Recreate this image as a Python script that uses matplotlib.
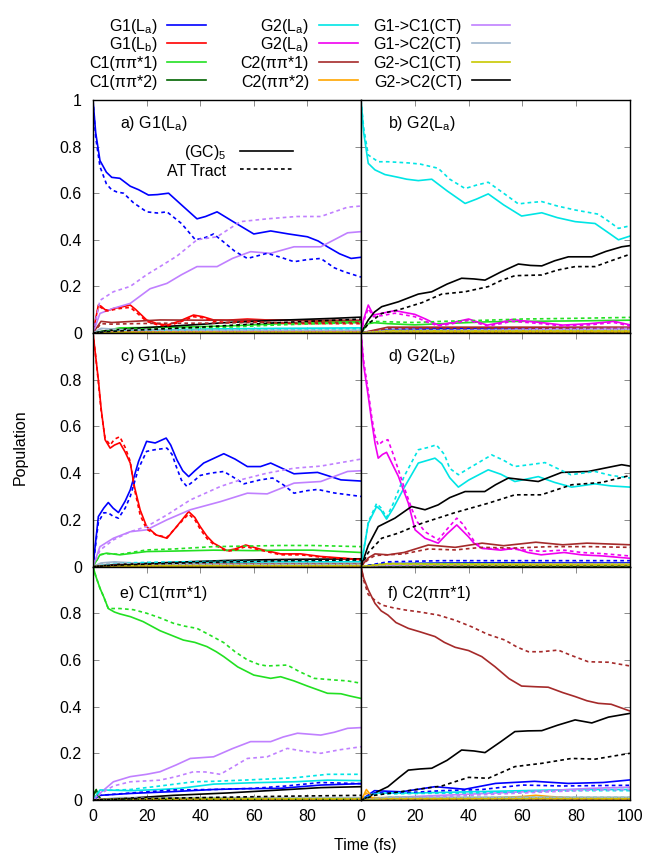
import matplotlib
matplotlib.use("Agg")
import matplotlib.pyplot as plt
from matplotlib.lines import Line2D

plt.rcParams['font.family'] = ['Liberation Sans', 'DejaVu Sans']
plt.rcParams['mathtext.default'] = 'regular'

# ---------------------------------------------------------------- series
keys = ['G1La', 'G1Lb', 'C1pp1', 'C1pp2', 'G2La', 'G2Lb',
        'C2pp1', 'C2pp2', 'G1C1', 'G1C2', 'G2C1', 'G2C2']
labels = ['G1(L$_a$)', 'G1(L$_b$)', 'C1(ππ*1)', 'C1(ππ*2)',
          'G2(L$_a$)', 'G2(L$_a$)', 'C2(ππ*1)', 'C2(ππ*2)',
          'G1->C1(CT)', 'G1->C2(CT)', 'G2->C1(CT)', 'G2->C2(CT)']
colors = ['#0000ff', '#ff0000', '#22e022', '#006400', '#00e5e5', '#f000f0',
          '#a52a2a', '#ffa500', '#c080ff', '#a0b6cd', '#c8c800', '#000000']

panel_titles = ['a) G1(L$_a$)', 'b) G2(L$_a$)', 'c) G1(L$_b$)',
                'd) G2(L$_b$)', 'e) C1(ππ*1)', 'f) C2(ππ*1)']
style_labels = ['(GC)$_5$', 'AT Tract']
x_ticks = [0, 20, 40, 60, 80, 100]
y_ticks = [0, 0.2, 0.4, 0.6, 0.8, 1.0]

T6 = [0, 10, 30, 50, 70, 100]

# ---- panel a : excitation of G1(La)
a_gc = {
    'G1La': ([0, 1, 2.6, 5, 7, 10, 13.9, 17, 20.7, 24, 28.2, 33, 38.8, 42, 46.3, 52, 60, 66.3, 73, 80, 84, 87.5, 92, 96.3, 100],
             [1.0, 0.86, 0.74, 0.69, 0.668, 0.664, 0.63, 0.615, 0.592, 0.594, 0.60, 0.55, 0.49, 0.50, 0.52, 0.48, 0.425, 0.438, 0.425, 0.413, 0.395, 0.37, 0.34, 0.32, 0.325]),
    'G1Lb': ([0, 1, 2, 3, 4.5, 6, 7.6, 10, 13.9, 16, 20, 24, 27.6, 32, 37.5, 41, 45, 50, 57.6, 65, 75, 85, 100],
             [0, 0.06, 0.12, 0.115, 0.10, 0.098, 0.105, 0.11, 0.12, 0.10, 0.056, 0.04, 0.034, 0.05, 0.077, 0.07, 0.056, 0.055, 0.06, 0.056, 0.055, 0.05, 0.05]),
    'C1pp1': (T6, [0, 0.022, 0.025, 0.03, 0.04, 0.05]),
    'C1pp2': (T6, [0, 0.006, 0.005, 0.005, 0.005, 0.005]),
    'G2La': (T6, [0, 0.012, 0.015, 0.018, 0.02, 0.022]),
    'G2Lb': (T6, [0, 0.006, 0.006, 0.007, 0.008, 0.008]),
    'C2pp1': ([0, 3, 7, 15, 25, 40, 60, 80, 100], [0, 0.05, 0.045, 0.05, 0.056, 0.055, 0.055, 0.055, 0.055]),
    'C2pp2': (T6, [0, 0.003, 0.003, 0.003, 0.003, 0.003]),
    'G1C1': ([0, 2.6, 7.6, 13.9, 21.3, 27.6, 33, 38.8, 46.3, 52, 58.8, 66.3, 75, 85, 95, 100],
             [0, 0.084, 0.106, 0.127, 0.19, 0.213, 0.25, 0.285, 0.285, 0.32, 0.349, 0.342, 0.37, 0.37, 0.43, 0.435]),
    'G1C2': ([0, 3, 10, 30, 50, 70, 100], [0, 0.02, 0.015, 0.012, 0.012, 0.012, 0.012]),
    'G2C1': (T6, [0, 0.004, 0.004, 0.004, 0.004, 0.004]),
    'G2C2': ([0, 5, 15, 30, 40, 50, 70, 90, 100], [0, 0.01, 0.02, 0.03, 0.037, 0.045, 0.055, 0.063, 0.068]),
}
a_at = {
    'G1La': ([0, 1, 2.6, 5, 7, 9, 11.4, 15, 20, 24, 27.6, 33, 38.2, 42, 45, 48.8, 53, 57.6, 65, 70, 75, 80, 85, 90, 93.7, 100],
             [1.0, 0.84, 0.714, 0.64, 0.614, 0.605, 0.60, 0.56, 0.52, 0.515, 0.52, 0.47, 0.40, 0.41, 0.425, 0.39, 0.35, 0.32, 0.342, 0.325, 0.306, 0.315, 0.32, 0.28, 0.263, 0.24]),
    'G1Lb': ([0, 1, 2, 3, 4.5, 6, 7.6, 10, 13.9, 16, 20, 24, 27.6, 32, 37.5, 41, 45, 50, 57.6, 65, 75, 85, 100],
             [0, 0.06, 0.11, 0.11, 0.095, 0.095, 0.10, 0.105, 0.11, 0.09, 0.05, 0.035, 0.03, 0.045, 0.07, 0.065, 0.05, 0.045, 0.05, 0.045, 0.04, 0.04, 0.04]),
    'C1pp1': (T6, [0, 0.016, 0.02, 0.025, 0.035, 0.045]),
    'C1pp2': (T6, [0, 0.005, 0.004, 0.004, 0.004, 0.004]),
    'G2La': (T6, [0, 0.01, 0.012, 0.015, 0.017, 0.018]),
    'G2Lb': (T6, [0, 0.005, 0.005, 0.006, 0.006, 0.006]),
    'C2pp1': ([0, 3, 7, 15, 25, 40, 60, 80, 100], [0, 0.04, 0.038, 0.04, 0.042, 0.042, 0.045, 0.045, 0.045]),
    'C2pp2': (T6, [0, 0.002, 0.002, 0.002, 0.002, 0.002]),
    'G1C1': ([0, 2.6, 7.6, 13.9, 20, 25, 31.3, 38.8, 46.3, 55, 65, 76, 85, 95, 100],
             [0, 0.14, 0.177, 0.20, 0.25, 0.285, 0.33, 0.40, 0.413, 0.478, 0.49, 0.50, 0.50, 0.54, 0.545]),
    'G1C2': ([0, 3, 10, 30, 50, 70, 100], [0, 0.018, 0.014, 0.012, 0.012, 0.012, 0.012]),
    'G2C1': (T6, [0, 0.003, 0.003, 0.003, 0.003, 0.003]),
    'G2C2': ([0, 5, 15, 30, 40, 50, 70, 90, 100], [0, 0.006, 0.012, 0.02, 0.025, 0.032, 0.045, 0.055, 0.06]),
}

# ---- panel b : excitation of G2(La)
b_gc = {
    'G1La': (T6, [0, 0.015, 0.018, 0.02, 0.02, 0.02]),
    'G1Lb': (T6, [0, 0.008, 0.008, 0.008, 0.008, 0.008]),
    'C1pp1': ([0, 2.7, 5, 10, 20, 30, 47, 60, 80, 100], [0, 0.04, 0.044, 0.04, 0.035, 0.04, 0.048, 0.05, 0.052, 0.055]),
    'C1pp2': (T6, [0, 0.004, 0.004, 0.004, 0.004, 0.004]),
    'G2La': ([0, 1, 2.7, 5.2, 8.9, 13.9, 17, 21.3, 26.3, 32, 38.7, 43, 47.3, 53, 59.7, 67.2, 73, 79.6, 87, 92, 95.7, 100],
             [1.0, 0.86, 0.728, 0.70, 0.68, 0.668, 0.66, 0.654, 0.66, 0.61, 0.556, 0.575, 0.597, 0.55, 0.502, 0.516, 0.495, 0.478, 0.47, 0.43, 0.40, 0.416]),
    'G2Lb': ([0, 1, 2.7, 4.6, 8, 12.6, 20, 24, 28.7, 34, 40, 44, 47, 52, 56, 62, 67, 75, 85, 94, 100],
             [0, 0.06, 0.12, 0.077, 0.085, 0.096, 0.08, 0.06, 0.034, 0.045, 0.06, 0.045, 0.034, 0.045, 0.058, 0.05, 0.045, 0.034, 0.04, 0.05, 0.035]),
    'C2pp1': (T6, [0, 0.025, 0.025, 0.025, 0.025, 0.025]),
    'C2pp2': (T6, [0, 0.006, 0.005, 0.005, 0.005, 0.005]),
    'G1C1': (T6, [0, 0.01, 0.012, 0.015, 0.018, 0.02]),
    'G1C2': (T6, [0, 0.012, 0.012, 0.012, 0.012, 0.012]),
    'G2C1': (T6, [0, 0.01, 0.01, 0.01, 0.01, 0.01]),
    'G2C2': ([0, 2.7, 5, 7.7, 13.9, 21.3, 26.3, 32, 37.4, 42, 46.1, 52, 58.5, 63, 67.2, 72, 77.1, 85.8, 91, 96.9, 100],
             [0, 0.056, 0.09, 0.113, 0.134, 0.167, 0.177, 0.21, 0.235, 0.232, 0.227, 0.262, 0.296, 0.29, 0.288, 0.31, 0.327, 0.327, 0.35, 0.37, 0.375]),
}
b_at = {
    'G1La': (T6, [0, 0.012, 0.014, 0.015, 0.015, 0.015]),
    'G1Lb': (T6, [0, 0.006, 0.006, 0.006, 0.006, 0.006]),
    'C1pp1': ([0, 2.7, 5, 10, 20, 30, 47, 60, 80, 100], [0, 0.045, 0.05, 0.048, 0.045, 0.05, 0.055, 0.06, 0.063, 0.067]),
    'C1pp2': (T6, [0, 0.003, 0.003, 0.003, 0.003, 0.003]),
    'G2La': ([0, 1, 2.7, 6.4, 10, 17.6, 22, 28.7, 33, 38.7, 43, 47.3, 53, 58.5, 63, 67.2, 73, 79.6, 88.2, 92, 95.7, 100],
             [1.0, 0.88, 0.764, 0.735, 0.735, 0.73, 0.725, 0.707, 0.66, 0.62, 0.635, 0.647, 0.60, 0.554, 0.56, 0.564, 0.545, 0.528, 0.51, 0.48, 0.449, 0.46]),
    'G2Lb': ([0, 1, 2.7, 4.6, 8, 12.6, 20, 24, 28.7, 34, 40, 44, 47, 52, 56, 62, 67, 75, 85, 94, 100],
             [0, 0.05, 0.105, 0.07, 0.075, 0.085, 0.07, 0.05, 0.03, 0.04, 0.055, 0.04, 0.03, 0.04, 0.05, 0.045, 0.04, 0.03, 0.035, 0.045, 0.03]),
    'C2pp1': (T6, [0, 0.02, 0.02, 0.02, 0.02, 0.02]),
    'C2pp2': (T6, [0, 0.005, 0.004, 0.004, 0.004, 0.004]),
    'G1C1': (T6, [0, 0.008, 0.01, 0.012, 0.014, 0.016]),
    'G1C2': (T6, [0, 0.01, 0.01, 0.01, 0.01, 0.01]),
    'G2C1': (T6, [0, 0.008, 0.008, 0.008, 0.008, 0.008]),
    'G2C2': ([0, 2.7, 7.7, 13.9, 22.6, 30, 38.7, 47.3, 52, 57.2, 67.2, 73, 79.6, 87, 93, 100],
             [0, 0.04, 0.084, 0.099, 0.13, 0.167, 0.177, 0.199, 0.225, 0.246, 0.249, 0.27, 0.285, 0.285, 0.31, 0.338]),
}

# ---- panel c : excitation of G1(Lb)
c_gc = {
    'G1La': ([0, 2, 4, 5.7, 7.5, 9.5, 12, 13.9, 17, 20, 23.2, 27.3, 29, 31.3, 33.5, 35.7, 38, 41.3, 48.8, 53, 57.6, 62.5, 66.3, 75, 83.8, 92.5, 100],
             [0, 0.214, 0.25, 0.274, 0.25, 0.231, 0.28, 0.328, 0.45, 0.536, 0.529, 0.55, 0.52, 0.457, 0.41, 0.385, 0.41, 0.443, 0.483, 0.46, 0.428, 0.428, 0.443, 0.397, 0.403, 0.371, 0.366]),
    'G1Lb': ([0, 1, 2, 3, 4.5, 6.4, 8, 10, 12, 13.9, 15.5, 17.6, 20, 23.6, 27.6, 31.2, 35.7, 38, 40, 42.5, 45, 50, 53, 57, 62.5, 70, 77.5, 85, 100],
             [1.0, 0.90, 0.80, 0.68, 0.543, 0.507, 0.52, 0.53, 0.49, 0.443, 0.34, 0.242, 0.171, 0.135, 0.121, 0.171, 0.235, 0.21, 0.171, 0.13, 0.10, 0.068, 0.075, 0.092, 0.074, 0.054, 0.054, 0.043, 0.03]),
    'C1pp1': ([0, 2.6, 5, 10, 20, 30, 45, 60, 70, 82, 100], [0, 0.05, 0.057, 0.05, 0.064, 0.066, 0.07, 0.068, 0.07, 0.07, 0.06]),
    'C1pp2': (T6, [0, 0.004, 0.004, 0.004, 0.004, 0.004]),
    'G2La': (T6, [0, 0.012, 0.016, 0.018, 0.02, 0.02]),
    'G2Lb': (T6, [0, 0.005, 0.005, 0.005, 0.005, 0.005]),
    'C2pp1': (T6, [0, 0.01, 0.012, 0.012, 0.012, 0.012]),
    'C2pp2': (T6, [0, 0.003, 0.003, 0.003, 0.003, 0.003]),
    'G1C1': ([0, 2.6, 7.6, 13.9, 20, 27.6, 36.3, 47.6, 57.6, 65, 75, 85, 95, 100],
             [0, 0.085, 0.121, 0.149, 0.157, 0.20, 0.243, 0.278, 0.314, 0.311, 0.357, 0.364, 0.407, 0.41]),
    'G1C2': ([0, 3, 8, 20, 50, 100], [0, 0.015, 0.02, 0.012, 0.01, 0.01]),
    'G2C1': (T6, [0, 0.004, 0.004, 0.004, 0.004, 0.004]),
    'G2C2': ([0, 10, 30, 50, 70, 100], [0, 0.008, 0.018, 0.026, 0.03, 0.033]),
}
c_at = {
    'G1La': ([0, 2, 4, 5.7, 7.5, 9.5, 12, 13.9, 17, 20, 23, 27.6, 29.5, 31, 33, 35, 38, 40, 44, 48.8, 52, 56.3, 62, 67, 71, 75, 80, 83.8, 90, 100],
             [0, 0.19, 0.23, 0.23, 0.215, 0.207, 0.25, 0.30, 0.42, 0.493, 0.50, 0.507, 0.48, 0.43, 0.37, 0.343, 0.37, 0.39, 0.40, 0.407, 0.385, 0.354, 0.37, 0.379, 0.35, 0.314, 0.325, 0.33, 0.315, 0.30]),
    'G1Lb': ([0, 1, 2, 3, 4.5, 6.4, 8, 10, 12, 13.9, 15.5, 17.6, 20, 23.6, 27.6, 31.2, 35.7, 38, 40, 42.5, 45, 50, 53, 57, 62.5, 70, 77.5, 85, 100],
             [1.0, 0.90, 0.79, 0.67, 0.55, 0.52, 0.545, 0.556, 0.51, 0.45, 0.33, 0.22, 0.16, 0.135, 0.125, 0.17, 0.225, 0.20, 0.16, 0.12, 0.095, 0.065, 0.07, 0.085, 0.07, 0.05, 0.05, 0.04, 0.03]),
    'C1pp1': ([0, 2.6, 5, 10, 20, 30, 45, 60, 70, 82, 100], [0, 0.05, 0.055, 0.052, 0.071, 0.075, 0.085, 0.088, 0.09, 0.09, 0.085]),
    'C1pp2': (T6, [0, 0.003, 0.003, 0.003, 0.003, 0.003]),
    'G2La': (T6, [0, 0.015, 0.02, 0.022, 0.025, 0.025]),
    'G2Lb': (T6, [0, 0.004, 0.004, 0.004, 0.004, 0.004]),
    'C2pp1': (T6, [0, 0.008, 0.01, 0.01, 0.01, 0.01]),
    'C2pp2': (T6, [0, 0.002, 0.002, 0.002, 0.002, 0.002]),
    'G1C1': ([0, 2.6, 7.6, 13.9, 20, 27.6, 36.3, 47.6, 55, 65, 75, 85, 100],
             [0, 0.07, 0.114, 0.149, 0.171, 0.221, 0.285, 0.343, 0.371, 0.40, 0.421, 0.43, 0.46]),
    'G1C2': ([0, 3, 8, 20, 50, 100], [0, 0.012, 0.016, 0.01, 0.008, 0.008]),
    'G2C1': (T6, [0, 0.003, 0.003, 0.003, 0.003, 0.003]),
    'G2C2': ([0, 10, 30, 50, 70, 100], [0, 0.006, 0.014, 0.02, 0.025, 0.028]),
}

# ---- panel d : excitation of G2(Lb)
d_gc = {
    'G1La': (T6, [0, 0.012, 0.015, 0.016, 0.016, 0.016]),
    'G1Lb': (T6, [0, 0.005, 0.005, 0.005, 0.005, 0.005]),
    'C1pp1': (T6, [0, 0.012, 0.012, 0.012, 0.012, 0.012]),
    'C1pp2': (T6, [0, 0.003, 0.003, 0.003, 0.003, 0.003]),
    'G2La': ([0, 2.7, 5.8, 7.5, 9.5, 12, 16.3, 21.3, 27.5, 30, 33, 36.2, 40, 47.3, 52, 57.2, 65.9, 72, 78.3, 87, 93, 100],
             [0, 0.185, 0.257, 0.24, 0.203, 0.25, 0.343, 0.443, 0.464, 0.44, 0.38, 0.34, 0.37, 0.414, 0.395, 0.364, 0.385, 0.36, 0.34, 0.354, 0.345, 0.34]),
    'G2Lb': ([0, 1, 2.7, 4, 5.2, 6.4, 8, 9.5, 12, 13.9, 16, 17.6, 20.1, 23.8, 28.7, 32, 35.6, 38, 39.9, 42, 44.9, 52, 57, 62, 67, 75.5, 82, 90, 100],
             [1.0, 0.86, 0.729, 0.62, 0.529, 0.464, 0.48, 0.489, 0.43, 0.386, 0.32, 0.271, 0.157, 0.121, 0.10, 0.14, 0.178, 0.15, 0.128, 0.10, 0.078, 0.07, 0.078, 0.06, 0.05, 0.06, 0.05, 0.045, 0.035]),
    'C2pp1': ([0, 2.7, 5.2, 10, 16, 25, 35, 45, 53, 65, 75, 84, 100],
              [0, 0.037, 0.054, 0.05, 0.06, 0.092, 0.082, 0.10, 0.089, 0.104, 0.093, 0.10, 0.093]),
    'C2pp2': (T6, [0, 0.01, 0.008, 0.008, 0.008, 0.008]),
    'G1C1': (T6, [0, 0.006, 0.008, 0.01, 0.012, 0.012]),
    'G1C2': (T6, [0, 0.01, 0.01, 0.01, 0.01, 0.01]),
    'G2C1': (T6, [0, 0.012, 0.01, 0.01, 0.01, 0.01]),
    'G2C2': ([0, 2.7, 6.4, 12.6, 18.8, 23.8, 28.7, 33, 38.7, 46, 50, 54.8, 60, 65.9, 74.6, 84.5, 90, 96.9, 100],
             [0, 0.09, 0.171, 0.207, 0.257, 0.243, 0.264, 0.295, 0.321, 0.321, 0.35, 0.379, 0.372, 0.364, 0.403, 0.407, 0.42, 0.436, 0.43]),
}
d_at = {
    'G1La': (T6, [0, 0.02, 0.025, 0.025, 0.025, 0.025]),
    'G1Lb': (T6, [0, 0.004, 0.004, 0.004, 0.004, 0.004]),
    'C1pp1': (T6, [0, 0.01, 0.01, 0.01, 0.01, 0.01]),
    'C1pp2': (T6, [0, 0.002, 0.002, 0.002, 0.002, 0.002]),
    'G2La': ([0, 2.7, 5.8, 7.5, 9.5, 12, 16, 21.3, 25, 28, 31, 33, 36.2, 40, 48.6, 53, 57, 62, 68.4, 73, 78, 87, 93, 100],
             [0, 0.19, 0.27, 0.25, 0.21, 0.27, 0.385, 0.50, 0.51, 0.521, 0.48, 0.42, 0.393, 0.42, 0.478, 0.455, 0.428, 0.435, 0.445, 0.42, 0.393, 0.407, 0.39, 0.379]),
    'G2Lb': ([0, 1, 2.7, 4, 5.2, 6.4, 8, 10, 12, 13.9, 16, 19, 21, 23.8, 28.7, 32, 35.6, 38, 40, 42, 45, 57, 67, 75.5, 82, 90, 100],
             [1.0, 0.88, 0.75, 0.64, 0.56, 0.52, 0.535, 0.543, 0.48, 0.414, 0.34, 0.243, 0.19, 0.149, 0.114, 0.16, 0.207, 0.18, 0.143, 0.11, 0.078, 0.074, 0.065, 0.07, 0.06, 0.055, 0.045]),
    'C2pp1': ([0, 2.7, 5.2, 10, 16, 25, 35, 45, 57, 70, 85, 100],
              [0, 0.03, 0.047, 0.05, 0.054, 0.075, 0.071, 0.082, 0.079, 0.085, 0.085, 0.082]),
    'C2pp2': (T6, [0, 0.008, 0.006, 0.006, 0.006, 0.006]),
    'G1C1': (T6, [0, 0.005, 0.006, 0.008, 0.01, 0.01]),
    'G1C2': (T6, [0, 0.008, 0.008, 0.008, 0.008, 0.008]),
    'G2C1': (T6, [0, 0.01, 0.008, 0.008, 0.008, 0.008]),
    'G2C2': ([0, 2.7, 7.7, 13.9, 22.6, 35, 47.3, 57.2, 67, 78.3, 89.5, 100],
             [0, 0.06, 0.121, 0.143, 0.185, 0.231, 0.271, 0.307, 0.307, 0.35, 0.36, 0.39]),
}

# ---- panel e : excitation of C1(pi pi*1)
e_gc = {
    'G1La': ([0, 2.6, 14, 30, 45, 55, 70, 85, 100], [0, 0.02, 0.028, 0.036, 0.045, 0.048, 0.05, 0.064, 0.07]),
    'G1Lb': (T6, [0, 0.006, 0.006, 0.006, 0.006, 0.006]),
    'C1pp1': ([0, 1, 2.6, 4, 5.7, 8, 10, 14, 18.7, 25, 33.7, 38, 42.5, 46, 48.8, 54, 60, 66.3, 70, 75, 80, 87.5, 92.5, 96, 100],
              [1.0, 0.96, 0.907, 0.87, 0.82, 0.805, 0.797, 0.785, 0.764, 0.725, 0.685, 0.675, 0.657, 0.635, 0.614, 0.57, 0.535, 0.521, 0.528, 0.51, 0.488, 0.457, 0.455, 0.445, 0.435]),
    'C1pp2': ([0, 0.5, 1.2, 2, 3, 100], [0, 0.03, 0.045, 0.02, 0.002, 0.002]),
    'G2La': ([0, 2.6, 14, 25, 32.5, 45, 60, 75, 87.5, 100], [0, 0.043, 0.04, 0.045, 0.05, 0.068, 0.074, 0.078, 0.085, 0.083]),
    'G2Lb': (T6, [0, 0.005, 0.005, 0.005, 0.005, 0.005]),
    'C2pp1': (T6, [0, 0.006, 0.006, 0.006, 0.006, 0.006]),
    'C2pp2': (T6, [0, 0.003, 0.003, 0.003, 0.003, 0.003]),
    'G1C1': ([0, 2.6, 7.6, 13.9, 20, 25, 31, 36.3, 45, 52, 58.8, 66.3, 71, 76.3, 85, 90, 95, 100],
             [0, 0.029, 0.078, 0.10, 0.11, 0.121, 0.15, 0.178, 0.185, 0.22, 0.25, 0.25, 0.27, 0.286, 0.278, 0.29, 0.307, 0.31]),
    'G1C2': (T6, [0, 0.01, 0.01, 0.01, 0.01, 0.01]),
    'G2C1': (T6, [0, 0.006, 0.006, 0.006, 0.006, 0.006]),
    'G2C2': ([0, 10, 30, 50, 70, 85, 100], [0, 0.005, 0.02, 0.03, 0.043, 0.053, 0.057]),
}
e_at = {
    'G1La': ([0, 2.6, 14, 30, 45, 60, 72, 85, 100], [0, 0.02, 0.03, 0.043, 0.045, 0.05, 0.06, 0.075, 0.07]),
    'G1Lb': (T6, [0, 0.005, 0.005, 0.005, 0.005, 0.005]),
    'C1pp1': ([0, 1, 2.6, 4, 5.7, 10, 15, 20, 25, 30, 34, 38.8, 43, 48.8, 53, 57.6, 62, 65, 72.5, 77, 82.5, 90, 95, 100],
              [1.0, 0.96, 0.907, 0.87, 0.82, 0.82, 0.815, 0.80, 0.78, 0.757, 0.745, 0.735, 0.71, 0.674, 0.635, 0.60, 0.58, 0.574, 0.578, 0.55, 0.521, 0.514, 0.51, 0.50]),
    'C1pp2': ([0, 0.5, 1.2, 2, 3, 100], [0, 0.025, 0.04, 0.018, 0.002, 0.002]),
    'G2La': ([0, 2.6, 14, 25, 37.5, 45, 60, 75, 87.5, 100], [0, 0.04, 0.045, 0.06, 0.078, 0.08, 0.087, 0.095, 0.11, 0.11]),
    'G2Lb': (T6, [0, 0.004, 0.004, 0.004, 0.004, 0.004]),
    'C2pp1': (T6, [0, 0.005, 0.005, 0.005, 0.005, 0.005]),
    'C2pp2': (T6, [0, 0.002, 0.002, 0.002, 0.002, 0.002]),
    'G1C1': ([0, 2.6, 7.6, 13.9, 25, 31, 37.5, 42, 47.5, 52, 57.6, 65, 72.5, 78, 85, 92, 100],
             [0, 0.025, 0.06, 0.078, 0.085, 0.10, 0.121, 0.12, 0.11, 0.14, 0.178, 0.185, 0.221, 0.21, 0.20, 0.215, 0.228]),
    'G1C2': (T6, [0, 0.008, 0.008, 0.008, 0.008, 0.008]),
    'G2C1': (T6, [0, 0.005, 0.005, 0.005, 0.005, 0.005]),
    'G2C2': ([0, 10, 30, 50, 70, 85, 100], [0, 0.004, 0.008, 0.012, 0.016, 0.018, 0.02]),
}

# ---- panel f : excitation of C2(pi pi*1)
f_gc = {
    'G1La': ([0, 5, 15, 27.5, 38.6, 50, 64.5, 77, 90, 100], [0, 0.04, 0.035, 0.057, 0.046, 0.071, 0.08, 0.071, 0.075, 0.086]),
    'G1Lb': (T6, [0, 0.006, 0.006, 0.006, 0.006, 0.006]),
    'C1pp1': (T6, [0, 0.008, 0.008, 0.008, 0.008, 0.008]),
    'C1pp2': (T6, [0, 0.003, 0.003, 0.003, 0.003, 0.003]),
    'G2La': ([0, 5, 20, 40, 60, 80, 100], [0, 0.03, 0.03, 0.035, 0.04, 0.045, 0.045]),
    'G2Lb': (T6, [0, 0.006, 0.006, 0.006, 0.006, 0.006]),
    'C2pp1': ([0, 1, 2.7, 5.2, 7.5, 10, 13, 17.6, 22, 27.5, 31, 35, 40, 44.9, 49.8, 55, 59.7, 65, 69.6, 75, 79.6, 84, 88.2, 93, 100],
              [1.0, 0.95, 0.90, 0.842, 0.81, 0.792, 0.76, 0.735, 0.72, 0.70, 0.675, 0.654, 0.64, 0.614, 0.571, 0.52, 0.488, 0.485, 0.483, 0.46, 0.443, 0.425, 0.414, 0.41, 0.381]),
    'C2pp2': ([0, 1, 2, 3, 4, 6, 15, 30, 50, 60, 65, 70, 80, 100],
              [0, 0.02, 0.045, 0.03, 0.01, 0.01, 0.01, 0.005, 0.01, 0.015, 0.02, 0.015, 0.008, 0.005]),
    'G1C1': ([0, 10, 30, 50, 70, 85, 100], [0, 0.01, 0.02, 0.03, 0.04, 0.05, 0.055]),
    'G1C2': (T6, [0, 0.012, 0.012, 0.012, 0.012, 0.012]),
    'G2C1': (T6, [0, 0.006, 0.006, 0.006, 0.006, 0.006]),
    'G2C2': ([0, 2.7, 6, 10, 14, 17.6, 22, 26.3, 32, 37.4, 42, 46.1, 52, 57.2, 62, 67.2, 73, 79.6, 85.8, 92, 100],
             [0, 0.013, 0.035, 0.057, 0.095, 0.128, 0.133, 0.136, 0.17, 0.214, 0.21, 0.203, 0.25, 0.293, 0.296, 0.297, 0.32, 0.343, 0.33, 0.355, 0.371]),
}
f_at = {
    'G1La': ([0, 5, 15, 30, 45, 60, 75, 90, 100], [0, 0.03, 0.03, 0.04, 0.045, 0.064, 0.06, 0.062, 0.063]),
    'G1Lb': (T6, [0, 0.005, 0.005, 0.005, 0.005, 0.005]),
    'C1pp1': (T6, [0, 0.01, 0.01, 0.01, 0.01, 0.01]),
    'C1pp2': (T6, [0, 0.002, 0.002, 0.002, 0.002, 0.002]),
    'G2La': ([0, 5, 20, 40, 60, 80, 100], [0, 0.025, 0.028, 0.03, 0.035, 0.04, 0.04]),
    'G2Lb': (T6, [0, 0.005, 0.005, 0.005, 0.005, 0.005]),
    'C2pp1': ([0, 1, 2.7, 5, 7.7, 12, 16.3, 22, 28.7, 35, 41.1, 47, 53.5, 58, 62.2, 67, 73.3, 78, 84.5, 92, 100],
              [1.0, 0.94, 0.88, 0.857, 0.835, 0.823, 0.814, 0.805, 0.792, 0.77, 0.742, 0.71, 0.685, 0.655, 0.635, 0.635, 0.642, 0.62, 0.592, 0.59, 0.574]),
    'C2pp2': ([0, 1, 2, 3, 4, 6, 30, 60, 100], [0, 0.015, 0.03, 0.02, 0.008, 0.006, 0.005, 0.008, 0.004]),
    'G1C1': ([0, 10, 30, 50, 70, 85, 100], [0, 0.008, 0.015, 0.025, 0.035, 0.042, 0.045]),
    'G1C2': (T6, [0, 0.01, 0.01, 0.01, 0.01, 0.01]),
    'G2C1': (T6, [0, 0.005, 0.005, 0.005, 0.005, 0.005]),
    'G2C2': ([0, 5, 17.6, 30, 40, 47.3, 57.2, 67.2, 78.3, 87, 100], [0, 0.02, 0.04, 0.06, 0.097, 0.093, 0.143, 0.157, 0.178, 0.175, 0.20]),
}

panels_gc = [a_gc, b_gc, c_gc, d_gc, e_gc, f_gc]
panels_at = [a_at, b_at, c_at, d_at, e_at, f_at]

# ---------------------------------------------------------------- figure
W, H = 649, 855
fig = plt.figure(figsize=(W / 100, H / 100), dpi=100)

col_x = [93, 361, 630]          # pixel edges of the two columns
row_y = [100, 333, 566.5, 800]  # pixel edges of the three rows
FS = 11.5
LW = 1.2
DASH = (0, (2.2, 1.9))

axes = []
for i in range(6):
    r, c = divmod(i, 2)
    x0, x1 = col_x[c], col_x[c + 1]
    y0, y1 = row_y[r], row_y[r + 1]
    ax = fig.add_axes([x0 / W, 1 - y1 / H, (x1 - x0) / W, (y1 - y0) / H])
    axes.append(ax)

    for k, col in zip(keys, colors):
        t, v = panels_gc[i][k]
        ax.plot(t, v, color=col, lw=LW, solid_joinstyle='round')
    for k, col in zip(keys, colors):
        t, v = panels_at[i][k]
        ax.plot(t, v, color=col, lw=LW, linestyle=DASH)

    ax.set_xlim(0, 100)
    ax.set_ylim(0, 1)
    ax.set_xticks(x_ticks)
    ax.set_yticks(y_ticks)
    ax.tick_params(direction='in', top=True, right=True, length=4, width=0.6,
                   color='#777777', labelsize=FS, pad=8)
    ax.tick_params(axis='x', pad=6.5)
    for s in ax.spines.values():
        s.set_linewidth(1.0)
        s.set_color('black')

    if c == 0:
        ylab = ['0', '0.2', '0.4', '0.6', '0.8', '1' if r == 0 else '']
        ax.set_yticklabels(ylab)
    else:
        ax.set_yticklabels([])
    if r == 2:
        xlab = [str(x) for x in x_ticks]
        if c == 0:
            xlab[-1] = ''
        ax.set_xticklabels(xlab)
    else:
        ax.set_xticklabels([])

    ty = 0.878 if r < 2 else 0.866
    ax.text(0.1, ty, panel_titles[i], transform=ax.transAxes, fontsize=FS,
            ha='left', va='baseline')


def key_entry(x_text, x_line0, x_line1, y_line, text, color, ls):
    """One key row: right-aligned text followed by a line sample (pixels)."""
    fig.text(x_text / W, 1 - (y_line + 6) / H, text, fontsize=FS,
             ha='right', va='baseline')
    fig.add_artist(Line2D([x_line0 / W, x_line1 / W], [1 - y_line / H] * 2,
                          transform=fig.transFigure, color=color, lw=LW,
                          linestyle=ls))


# state key above the panels: three columns of four rows
key_text_right = [158, 309, 462]
key_line = [(167, 206), (319, 358), (472, 510)]
key_rows = [25, 43.5, 62, 80.5]
for n, (lab, col) in enumerate(zip(labels, colors)):
    cc, rr = divmod(n, 4)
    key_entry(key_text_right[cc], key_line[cc][0], key_line[cc][1],
              key_rows[rr], lab, col, '-')

# line-style key inside panel a
for lab, ls, yy in zip(style_labels, ['-', DASH], [151, 169.5]):
    key_entry(226, 240, 293, yy, lab, 'black', ls)

fig.text(20 / W, 1 - 447 / H, 'Population', rotation=90, fontsize=FS,
         ha='center', va='center')
fig.text(365 / W, 1 - 845 / H, 'Time (fs)', fontsize=FS, ha='center', va='center')

fig.savefig('out.png', dpi=100)
